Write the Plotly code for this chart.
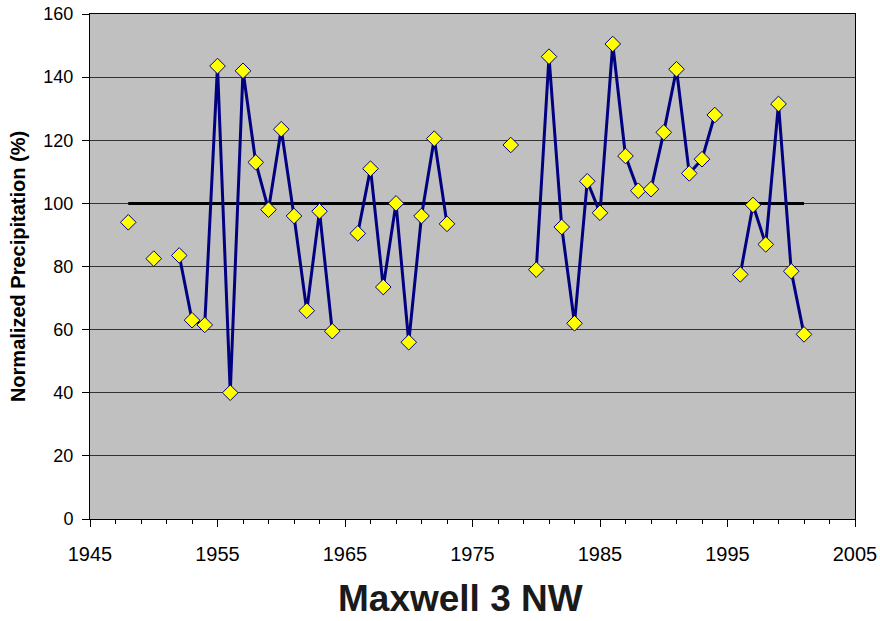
import plotly.graph_objects as go

YEARS = list(range(1948, 2002))
PRECIP = {
    1948: 94, 1950: 82.5, 1952: 83.5, 1953: 63, 1954: 61.5, 1955: 143.5,
    1956: 40, 1957: 142, 1958: 113, 1959: 98, 1960: 123.5, 1961: 96,
    1962: 66, 1963: 97.5, 1964: 59.5, 1966: 90.5, 1967: 111, 1968: 73.5,
    1969: 100, 1970: 56, 1971: 96, 1972: 120.5, 1973: 93.5, 1978: 118.5,
    1980: 79, 1981: 146.5, 1982: 92.5, 1983: 62, 1984: 107, 1985: 97,
    1986: 150.5, 1987: 115, 1988: 104, 1989: 104.5, 1990: 122.5, 1991: 142.5,
    1992: 109.5, 1993: 114, 1994: 128, 1996: 77.5, 1997: 99.5, 1998: 87,
    1999: 131.5, 2000: 78.5, 2001: 58.5,
}
VALUES = [PRECIP.get(y) for y in YEARS]
NORMAL_X = [1948, 2001]
NORMAL_Y = [100, 100]

FONT = "Arial, Liberation Sans, sans-serif"
W, H = 880, 621
L, R, T, B = 90, 25, 14, 102

fig = go.Figure()
fig.add_trace(go.Scatter(
    x=NORMAL_X, y=NORMAL_Y, mode="lines",
    line=dict(color="black", width=3), hoverinfo="skip",
))
fig.add_trace(go.Scatter(
    x=YEARS, y=VALUES, mode="lines+markers", connectgaps=False,
    line=dict(color="#000080", width=3),
    marker=dict(symbol="diamond", size=12, color="#FFFF00",
                line=dict(color="#000080", width=1)),
))

# title sits below the x axis, placed in pixel terms
pw, ph = W - L - R, H - T - B
title_x, title_y = 460, 598
fig.update_layout(
    width=W, height=H,
    margin=dict(l=L, r=R, t=T, b=B),
    paper_bgcolor="white", plot_bgcolor="#C0C0C0",
    showlegend=False,
    font=dict(family=FONT, color="black"),
    annotations=[dict(
        text="<b>Maxwell 3 NW</b>",
        x=(title_x - L) / pw, y=(H - B - title_y) / ph, xref="paper", yref="paper",
        showarrow=False, font=dict(size=37, family=FONT, color="#1a1a1a"),
        xanchor="center", yanchor="middle",
    )],
)

fig.update_xaxes(
    range=[1945, 2005], tick0=1945, dtick=10, automargin=False,
    ticks="outside", ticklen=7, tickcolor="black", tickwidth=1,
    minor=dict(tick0=1945, dtick=2, ticks="outside", ticklen=4, tickcolor="black"),
    ticklabelstandoff=10, ticklabeloverflow="allow",
    tickfont=dict(size=20, family=FONT),
    showgrid=False, zeroline=False,
    showline=True, linecolor="black", linewidth=1, mirror=True,
)
fig.update_yaxes(
    range=[0, 160], dtick=20, automargin=False,
    ticks="outside", ticklen=7, tickcolor="black",
    ticklabelstandoff=5, ticklabeloverflow="allow",
    tickfont=dict(size=18, family=FONT),
    showgrid=True, gridcolor="#333333", gridwidth=1, zeroline=False,
    showline=True, linecolor="black", linewidth=1, mirror=True,
    title=dict(text="<b>Normalized Precipitation (%)</b>",
               font=dict(size=20, family=FONT), standoff=12),
)

# drop the browser's default body margin so the figure fills the window
fig.write_html(
    "out.html",
    config={"displayModeBar": False},
    post_script="document.body.style.margin='0';document.body.style.overflow='hidden';",
)
